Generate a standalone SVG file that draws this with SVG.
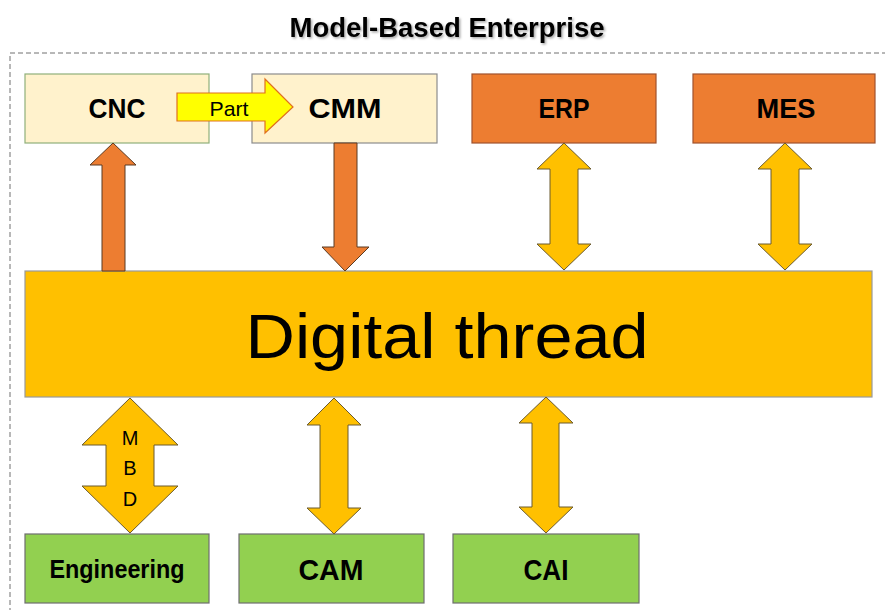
<svg xmlns="http://www.w3.org/2000/svg" width="885" height="610" viewBox="0 0 885 610">
<defs>
<style>
.lbl{font-family:"Liberation Sans",Arial,sans-serif;font-weight:bold;fill:#000;text-anchor:middle}
.reg{font-family:"Liberation Sans",Arial,sans-serif;fill:#000;text-anchor:middle}
.cream{fill:#FFF2CC;stroke:#8C8C8C;stroke-width:1.2}
.orange{fill:#ED7D31;stroke:#A0522D;stroke-width:1.2}
.green{fill:#92D050;stroke:#6E6E6E;stroke-width:1.2}
.ya{fill:#FFC000;stroke:#6B5B2E;stroke-width:1}
.oa{fill:#ED7D31;stroke:#5A3A22;stroke-width:1}
</style>
<filter id="sh" x="-5%" y="-20%" width="110%" height="150%">
<feDropShadow dx="1.5" dy="1.5" stdDeviation="1" flood-color="#000" flood-opacity="0.35"/>
</filter>
</defs>
<rect width="885" height="610" fill="#fff"/>
<text x="447" y="37" class="lbl" font-size="28" textLength="315" lengthAdjust="spacingAndGlyphs" filter="url(#sh)">Model-Based Enterprise</text>
<rect x="10" y="53" width="900" height="600" fill="none" stroke="#707070" stroke-width="1" stroke-dasharray="5,3"/>

<g id="cnc">
<rect x="25" y="74" width="184" height="69" class="cream" style="stroke:#8FB07A"/>
<text x="117" y="118" class="lbl" font-size="28" textLength="57" lengthAdjust="spacingAndGlyphs">CNC</text>
</g>
<g id="cmm">
<rect x="252" y="74" width="185" height="69" class="cream"/>
<text x="345" y="118" class="lbl" font-size="28" textLength="73" lengthAdjust="spacingAndGlyphs">CMM</text>
</g>
<g id="erp">
<rect x="472" y="74" width="184" height="69" class="orange"/>
<text x="564" y="118" class="lbl" font-size="28" textLength="51" lengthAdjust="spacingAndGlyphs">ERP</text>
</g>
<g id="mes">
<rect x="693" y="74" width="182" height="69" class="orange"/>
<text x="786" y="118" class="lbl" font-size="28" textLength="59" lengthAdjust="spacingAndGlyphs">MES</text>
</g>

<g id="digital-thread">
<rect x="25" y="271" width="847" height="126" fill="#FFC000" stroke="#9A9A9A" stroke-width="1.2"/>
<text x="447" y="358" class="reg" font-size="63" textLength="403" lengthAdjust="spacingAndGlyphs">Digital thread</text>
</g>

<g id="engineering">
<rect x="25" y="534" width="184" height="69" class="green"/>
<text x="117" y="578" class="lbl" font-size="25" textLength="135" lengthAdjust="spacingAndGlyphs">Engineering</text>
</g>
<g id="cam">
<rect x="239" y="534" width="185" height="69" class="green"/>
<text x="331" y="580" class="lbl" font-size="30" textLength="65" lengthAdjust="spacingAndGlyphs">CAM</text>
</g>
<g id="cai">
<rect x="453" y="534" width="186" height="69" class="green"/>
<text x="546" y="580" class="lbl" font-size="30" textLength="45" lengthAdjust="spacingAndGlyphs">CAI</text>
</g>

<g id="connectors">
<g id="part-arrow">
<polygon points="177,93 265,93 265,79 293,107 265,133 265,121 177,121" fill="#FFFF00" stroke="#E0701E" stroke-width="1.2"/>
<text x="229" y="116" class="reg" font-size="21" textLength="39" lengthAdjust="spacingAndGlyphs">Part</text>
</g>
<polygon class="oa" points="102,271 102,165 90,165 113,143 136,165 125,165 125,271"/>
<polygon class="oa" points="334,143 357,143 357,247 369,247 345,271 322,247 334,247"/>
<polygon class="ya" points="564,143 591,169 578,169 578,244 591,244 564,270 537,244 550,244 550,169 537,169"/>
<polygon class="ya" points="785,143 812,169 799,169 799,244 812,244 785,270 758,244 771,244 771,169 758,169"/>
<g id="mbd-arrow">
<polygon class="ya" points="130,398 178,445 154,445 154,486 178,486 130,533 82,486 106,486 106,445 82,445"/>
<text x="130" y="445" class="reg" font-size="20">M</text>
<text x="130" y="475" class="reg" font-size="20">B</text>
<text x="130" y="506" class="reg" font-size="20">D</text>
</g>
<polygon class="ya" points="334,398 361,425 348,425 348,508 361,508 334,534 307,508 320,508 320,425 307,425"/>
<polygon class="ya" points="546,397 573,423 559,423 559,507 573,507 546,533 519,507 532,507 532,423 519,423"/>
</g>
</svg>
